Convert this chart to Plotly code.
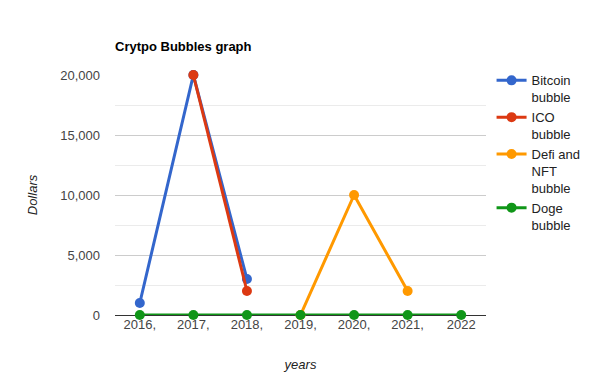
import plotly.graph_objects as go

years = ["2016", "2017", "2018", "2019", "2020", "2021", "2022"]
year_labels = ["2016,", "2017,", "2018,", "2019,", "2020,", "2021,", "2022"]

bitcoin = [1000, 20000, 3000, None, None, None, None]
ico = [None, 20000, 2000, None, None, None, None]
defi_nft = [None, None, None, 0, 10000, 2000, None]
doge = [0, 0, 0, 0, 0, 0, 0]

series_names = ["Bitcoin<br>bubble", "ICO<br>bubble", "Defi and<br>NFT<br>bubble", "Doge<br>bubble"]
series_values = [bitcoin, ico, defi_nft, doge]
colors = ["#3366cc", "#dc3912", "#ff9900", "#109618"]

FONT = "Liberation Sans, Arial, sans-serif"

fig = go.Figure()
for name, vals, col in zip(series_names, series_values, colors):
    fig.add_trace(go.Scatter(
        x=years, y=vals, name=name, mode="lines+markers",
        line=dict(color=col, width=3),
        marker=dict(color=col, size=10),
        cliponaxis=False,
    ))

fig.update_layout(
    width=600, height=390,
    margin=dict(l=115, r=114, t=75, b=75),
    paper_bgcolor="white", plot_bgcolor="white",
    font=dict(family=FONT, size=13, color="#222222"),
    title=dict(text="<b>Crytpo Bubbles graph</b>", x=115/600, xanchor="left",
               y=1-46/390, yanchor="middle", font=dict(size=13, color="#000000")),
    showlegend=True,
    legend=dict(x=1.015, xanchor="left", y=1.04, yanchor="top",
                font=dict(size=13, color="#222222"), valign="top",
                tracegroupgap=3, itemwidth=30, bgcolor="rgba(0,0,0,0)"),
    xaxis=dict(
        type="category", tickvals=years, ticktext=year_labels,
        showgrid=False, zeroline=False, showline=False, ticks="",
        tickfont=dict(size=13, color="#444444"),
        title=dict(text="<i>years</i>", font=dict(size=13, color="#222222"), standoff=28),
    ),
    yaxis=dict(
        range=[0, 20000], dtick=5000, tickformat=",d",
        showgrid=True, gridcolor="#cccccc", gridwidth=1,
        zeroline=True, zerolinecolor="#333333", zerolinewidth=1,
        minor=dict(dtick=2500, showgrid=True, gridcolor="#ebebeb"),
        tickfont=dict(size=13, color="#444444"), ticks="", ticklabelstandoff=14,
        title=dict(text="<i>Dollars</i>", font=dict(size=13, color="#222222"), standoff=19),
    ),
)

fig.write_html("out.html")
